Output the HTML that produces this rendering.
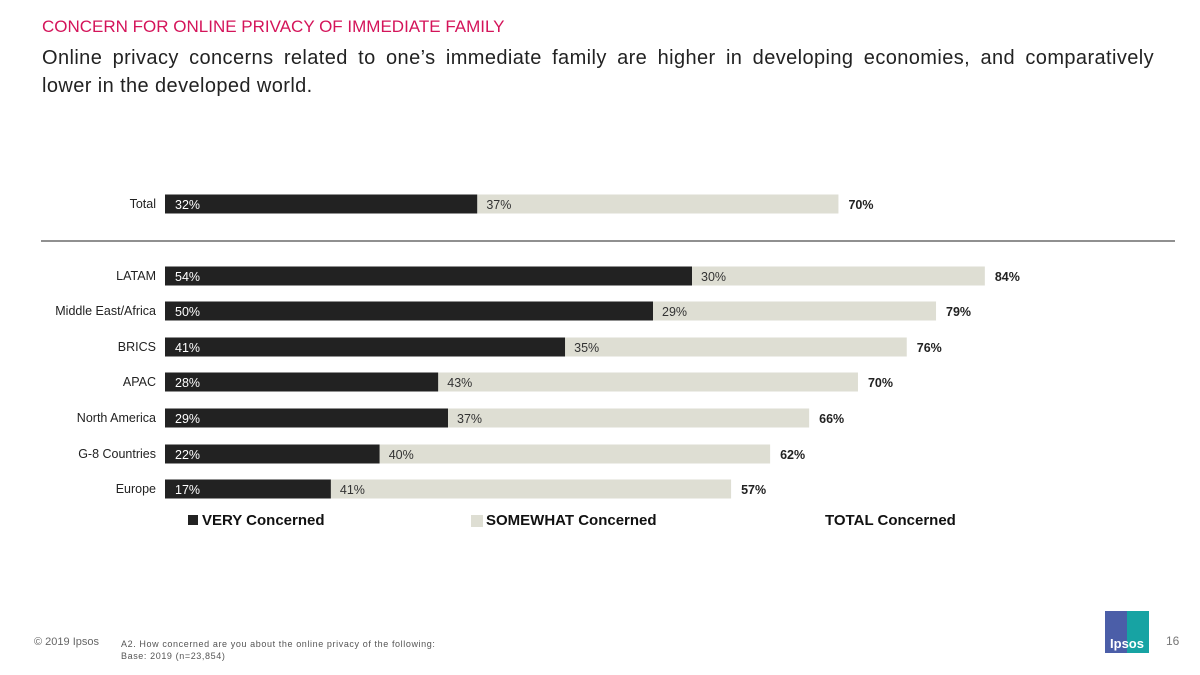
<!DOCTYPE html>
<html><head><meta charset="utf-8"><style>
body{margin:0;width:1200px;height:675px;background:#fff;font-family:"Liberation Sans",sans-serif;position:relative;overflow:hidden}
.abs{position:absolute}
</style></head><body>
<div class="abs" style="left:42px;top:17px;font-size:17px;color:#d4145a">CONCERN FOR ONLINE PRIVACY OF IMMEDIATE FAMILY</div>
<div class="abs" style="left:42px;top:44px;width:1112px;font-size:20px;line-height:28px;color:#222">
<div style="text-align:justify;text-align-last:justify;letter-spacing:0.4px">Online privacy concerns related to one’s immediate family are higher in developing economies, and comparatively</div>
<div style="letter-spacing:0.4px">lower in the developed world.</div></div>
<svg class="abs" style="left:0;top:0" width="1200" height="675">
<line x1="41" y1="241" x2="1175" y2="241" stroke="#222" stroke-width="1"/>
<g id="bars"></g>
<g font-size="15" font-weight="bold" fill="#111">
<rect x="188" y="515" width="10" height="10" fill="#222"/>
<text x="202" y="525">VERY Concerned</text>
<rect x="471" y="515" width="12" height="12" fill="#deded3"/>
<text x="486" y="525">SOMEWHAT Concerned</text>
<text x="825" y="525">TOTAL Concerned</text>
</g>
</svg>
<div class="abs" style="left:34px;top:636px;font-size:11px;color:#666">© 2019 Ipsos</div>
<div class="abs" style="left:121px;top:638px;font-size:9px;letter-spacing:0.6px;line-height:12px;color:#555">A2. How concerned are you about the online privacy of the following:<br>Base: 2019 (n=23,854)</div>
<div class="abs" style="left:1105px;top:611px;width:44px;height:42px;background:linear-gradient(90deg,#4b5ea8 50%,#17a3a3 50%);color:#fff;font-size:13px;font-weight:bold;line-height:18px;text-align:center;padding-top:24px;box-sizing:border-box">Ipsos</div>
<div class="abs" style="left:1166px;top:634px;font-size:12px;color:#777">16</div>
<script>
const categories=["Total","LATAM","Middle East/Africa","BRICS","APAC","North America","G-8 Countries","Europe"];
const veryValues=[32,54,50,41,28,29,22,17];
const somewhatValues=[37,30,29,35,43,37,40,41];
const totalValues=[70,84,79,76,70,66,62,57];
const rowCenters=[204,276,311,347,382,418,454,489];
const x0=165,scale=9.76,bh=19;
const X=v=>x0+v*scale;
const g=document.getElementById('bars');
const NS="http://www.w3.org/2000/svg";
function mk(tag,attrs,txt){const e=document.createElementNS(NS,tag);for(const k in attrs)e.setAttribute(k,attrs[k]);if(txt!=null)e.textContent=txt;g.appendChild(e);return e;}
categories.forEach((c,i)=>{
 const cy=rowCenters[i],y=cy-bh/2;
 const slug=c.toLowerCase().replace(/[^a-z0-9]+/g,'-');
 let e=mk('text',{x:156,y:cy+4,'text-anchor':'end','font-size':12.5,fill:'#222'},c);
 
 
 e=mk('rect',{x:X(0),y:y,width:X(veryValues[i])-X(0),height:bh,fill:'#222'});
 
 
 e=mk('rect',{x:X(veryValues[i]),y:y,width:X(veryValues[i]+somewhatValues[i])-X(veryValues[i]),height:bh,fill:'#deded3'});
 
 
 e=mk('text',{x:X(0)+10,y:cy+5,'font-size':12.5,fill:'#fff'},veryValues[i]+'%');
 
 
 e=mk('text',{x:X(veryValues[i])+9,y:cy+5,'font-size':12.5,fill:'#333'},somewhatValues[i]+'%');
 
 
 e=mk('text',{x:X(veryValues[i]+somewhatValues[i])+10,y:cy+5,'font-size':12.5,'font-weight':'bold',fill:'#222'},totalValues[i]+'%');
 
 
});
</script>
</body></html>
